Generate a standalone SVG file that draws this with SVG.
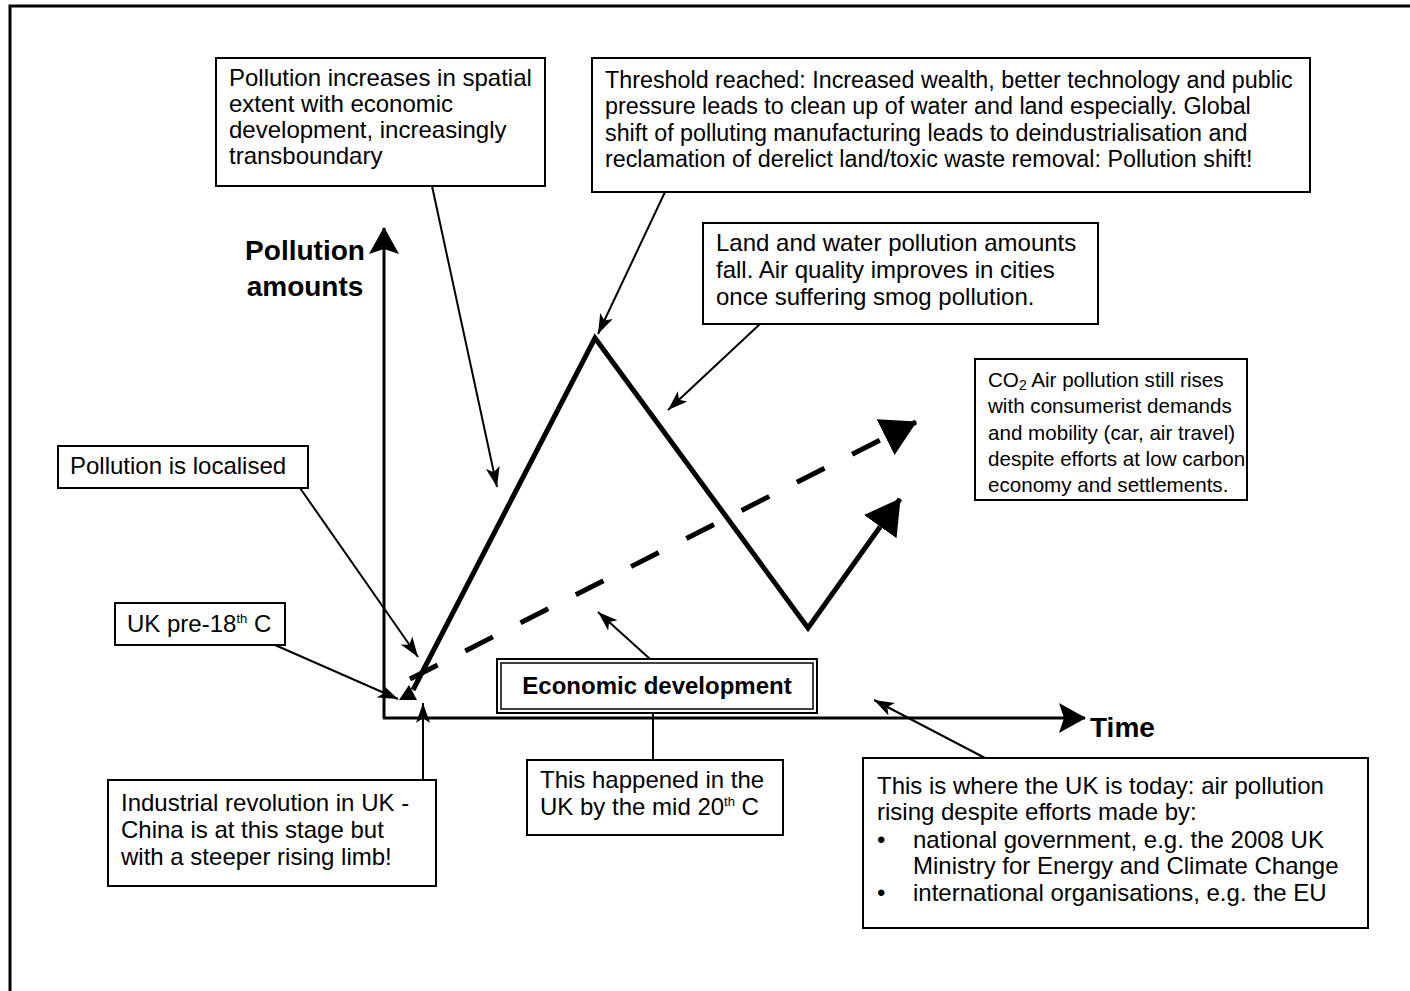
<svg xmlns="http://www.w3.org/2000/svg" width="1410" height="991" viewBox="0 0 1410 991">
<style>
.box{fill:#fff;stroke:#000;stroke-width:2}
.t{font-family:"Liberation Sans",Arial,sans-serif;font-size:24px;fill:#000}
.t2{font-family:"Liberation Sans",Arial,sans-serif;font-size:23.3px;fill:#000}
.t3{font-family:"Liberation Sans",Arial,sans-serif;font-size:20.6px;fill:#000}
.b{font-family:"Liberation Sans",Arial,sans-serif;font-weight:bold;fill:#000}
.ptr{fill:none;stroke:#000;stroke-width:2;marker-end:url(#ah)}
.axis{fill:none;stroke:#000;stroke-width:3}
.thick{fill:none;stroke:#000;stroke-width:5;stroke-linejoin:miter}
</style>
<defs>
<marker id="ah" markerUnits="userSpaceOnUse" markerWidth="24" markerHeight="16" refX="20" refY="8" orient="auto">
<path d="M0,1 L20,8 L0,15 L5,8 Z" fill="#000"/>
</marker>
<marker id="big" markerUnits="userSpaceOnUse" markerWidth="40" markerHeight="42" refX="34" refY="20" orient="auto">
<path d="M0,0 L35,20 L0,40 Z" fill="#000"/>
</marker>
<marker id="axh" markerUnits="userSpaceOnUse" markerWidth="30" markerHeight="32" refX="26" refY="15" orient="auto">
<path d="M0,0 L27,15 L0,30 L5,15 Z" fill="#000"/>
</marker>
</defs>
<rect x="10" y="6" width="1500" height="1100" fill="#fff" stroke="#000" stroke-width="3"/>

<g id="connectors">
<line class="axis" x1="384" y1="718" x2="384" y2="228" marker-end="url(#axh)"/>
<line class="axis" x1="383" y1="718" x2="1085" y2="718" marker-end="url(#axh)"/>
<polyline class="thick" points="413,690 595,338 808,628 880,527"/>
<line x1="880" y1="527" x2="900" y2="499" stroke="#000" stroke-width="5" marker-end="url(#big)"/>
<line x1="410" y1="679" x2="890" y2="435" stroke="#000" stroke-width="5" stroke-dasharray="31,31"/>
<line x1="890" y1="435" x2="916" y2="422" stroke="#000" stroke-width="5" marker-end="url(#big)"/>
<polygon points="399,700 409,685 417,700" fill="#000"/>
<line class="ptr" x1="432" y1="186" x2="497" y2="487"/>
<line class="ptr" x1="665" y1="192" x2="598" y2="334"/>
<line class="ptr" x1="760" y1="324" x2="668" y2="410"/>
<line class="ptr" x1="300" y1="488" x2="418" y2="657"/>
<line class="ptr" x1="275" y1="645" x2="398" y2="699"/>
<line class="ptr" x1="423" y1="780" x2="423" y2="703"/>
<line class="ptr" x1="985" y1="758" x2="874" y2="700"/>
<line class="ptr" x1="650" y1="659" x2="598" y2="612"/>
<line x1="653" y1="713" x2="653" y2="760" stroke="#000" stroke-width="2"/>
</g>

<g id="axis-labels">
<text class="b" x="305" y="260" font-size="28" text-anchor="middle">Pollution</text>
<text class="b" x="305" y="296" font-size="28" text-anchor="middle">amounts</text>
<text class="b" x="1090" y="737" font-size="28">Time</text>
</g>

<g id="n-spatial">
<rect class="box" x="216" y="58" width="329" height="128"/>
<text class="t" x="229" y="86">Pollution increases in spatial</text>
<text class="t" x="229" y="112">extent with economic</text>
<text class="t" x="229" y="138">development, increasingly</text>
<text class="t" x="229" y="164">transboundary</text>
</g>

<g id="n-threshold">
<rect class="box" x="592" y="58" width="718" height="134"/>
<text class="t2" x="605" y="88">Threshold reached: Increased wealth, better technology and public</text>
<text class="t2" x="605" y="114">pressure leads to clean up of water and land especially. Global</text>
<text class="t2" x="605" y="141">shift of polluting manufacturing leads to deindustrialisation and</text>
<text class="t2" x="605" y="167">reclamation of derelict land/toxic waste removal: Pollution shift!</text>
</g>

<g id="n-landwater">
<rect class="box" x="703" y="223" width="395" height="101"/>
<text class="t" x="716" y="251">Land and water pollution amounts</text>
<text class="t" x="716" y="278">fall. Air quality improves in cities</text>
<text class="t" x="716" y="305">once suffering smog pollution.</text>
</g>

<g id="n-co2">
<rect class="box" x="975" y="359" width="272" height="141"/>
<text class="t3" x="988" y="387">CO<tspan style="font-size:14px" baseline-shift="-3">2</tspan> Air pollution still rises</text>
<text class="t3" x="988" y="413">with consumerist demands</text>
<text class="t3" x="988" y="440">and mobility (car, air travel)</text>
<text class="t3" x="988" y="466">despite efforts at low carbon</text>
<text class="t3" x="988" y="492">economy and settlements.</text>
</g>

<g id="n-localised">
<rect class="box" x="58" y="446" width="250" height="42"/>
<text class="t" x="70" y="474">Pollution is localised</text>
</g>

<g id="n-pre18">
<rect class="box" x="115" y="603" width="170" height="42"/>
<text class="t" x="127" y="632">UK pre-18<tspan style="font-size:13px" baseline-shift="9">th</tspan> C</text>
</g>

<g id="n-econ">
<rect class="box" x="497" y="659" width="320" height="54"/>
<rect x="501" y="663" width="312" height="46" fill="none" stroke="#000" stroke-width="1.5"/>
<text class="b" x="657" y="694" font-size="24" text-anchor="middle">Economic development</text>
</g>

<g id="n-mid20">
<rect class="box" x="527" y="760" width="256" height="75"/>
<text class="t" x="540" y="788">This happened in the</text>
<text class="t" x="540" y="815">UK by the mid 20<tspan style="font-size:13px" baseline-shift="9">th</tspan> C</text>
</g>

<g id="n-industrial">
<rect class="box" x="108" y="780" width="328" height="106"/>
<text class="t" x="121" y="811">Industrial revolution in UK -</text>
<text class="t" x="121" y="838">China is at this stage but</text>
<text class="t" x="121" y="865">with a steeper rising limb!</text>
</g>

<g id="n-today">
<rect class="box" x="863" y="758" width="505" height="170"/>
<text class="t" x="877" y="794">This is where the UK is today: air pollution</text>
<text class="t" x="877" y="820">rising despite efforts made by:</text>
<text class="t" x="877" y="848">•</text>
<text class="t" x="913" y="848">national government, e.g. the 2008 UK</text>
<text class="t" x="913" y="874">Ministry for Energy and Climate Change</text>
<text class="t" x="877" y="901">•</text>
<text class="t" x="913" y="901">international organisations, e.g. the EU</text>
</g>
</svg>
